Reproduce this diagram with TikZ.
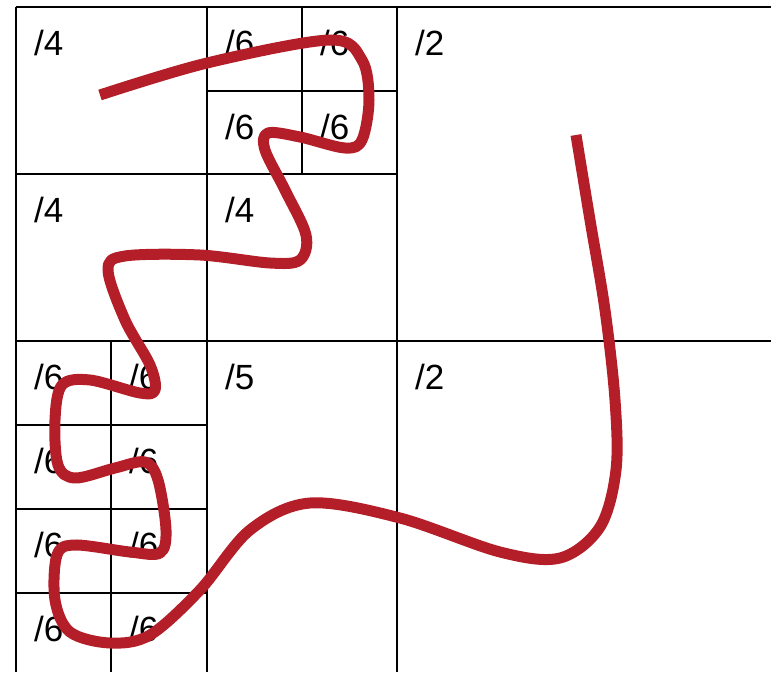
\documentclass[tikz,border=0pt]{standalone}
\usepackage{fontspec}
\setmainfont{Liberation Sans}
\definecolor{curvered}{RGB}{180,30,41}
\begin{document}
\begin{tikzpicture}[x=1pt,y=-1pt,
  gridline/.style={draw=black,line width=2.2pt},
  lab/.style={anchor=base west,inner sep=0pt,font=\fontsize{35}{40}\selectfont},
  wiggle/.style={draw=curvered,line width=11pt,line cap=butt,line join=round}]
\useasboundingbox (0,0) rectangle (771,672);
% grid
\draw[gridline] (16,7) -- (771,7);
\draw[gridline] (16,341) -- (771,341);
\draw[gridline] (16,174) -- (397,174);
\draw[gridline] (207,91) -- (397,91);
\draw[gridline] (16,425) -- (207,425);
\draw[gridline] (16,509) -- (207,509);
\draw[gridline] (16,593) -- (207,593);
\draw[gridline] (16,7) -- (16,672);
\draw[gridline] (207,7) -- (207,672);
\draw[gridline] (397,7) -- (397,672);
\draw[gridline] (302,7) -- (302,174);
\draw[gridline] (111,341) -- (111,672);
% labels
\node[lab] (l1) at (34,55) {/4};
\node[lab] (l2) at (225,55) {/6};
\node[lab] (l3) at (320,55) {/6};
\node[lab] (l4) at (415,55) {/2};
\node[lab] (l5) at (225,139) {/6};
\node[lab] (l6) at (320,139) {/6};
\node[lab] (l7) at (34,222) {/4};
\node[lab] (l8) at (225,222) {/4};
\node[lab] (l9) at (34,389) {/6};
\node[lab] (l10) at (129,389) {/6};
\node[lab] (l11) at (225,389) {/5};
\node[lab] (l12) at (415,389) {/2};
\node[lab] (l13) at (34,473) {/6};
\node[lab] (l14) at (129,473) {/6};
\node[lab] (l15) at (34,557) {/6};
\node[lab] (l16) at (129,557) {/6};
\node[lab] (l17) at (34,641) {/6};
\node[lab] (l18) at (129,641) {/6};
% curve
\draw[wiggle] plot[smooth,tension=0.55] coordinates {
 (100,95) (207,63) (330,40) (362,60) (369,100) (362,140) (345,148)
 (300,137) (268,133) (265,150) (285,190) (306,235) (300,260) (270,263)
 (200,255) (125,256) (108,270) (125,320) (150,365) (155,390) (140,393)
 (90,380) (62,385) (55,420) (58,465) (75,478) (115,468) (145,462)
 (158,480) (166,530) (160,553) (130,552) (75,545) (57,555) (55,600)
 (70,632) (110,643) (150,635) (200,590) (250,530) (310,503) (400,518)
 (500,552) (560,558) (600,527) (616,470) (615,400) (605,310) (590,220)
 (576,135)};
\end{tikzpicture}
\end{document}
